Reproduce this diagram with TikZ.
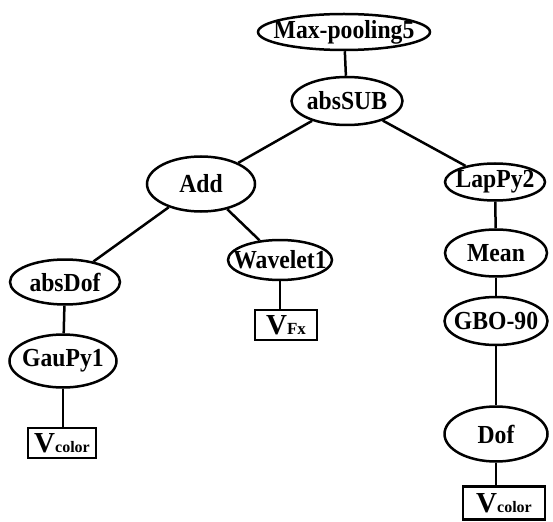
\documentclass[tikz,border=0pt]{standalone}
\usepackage{fontspec}
\setmainfont{Liberation Serif}
\usepackage{graphicx}
\usepackage{tikz}
\usetikzlibrary{shapes.geometric,positioning}

\begin{document}
\begin{tikzpicture}[x=1pt,y=-1pt,
  op/.style={draw,ellipse,line width=2.5pt,inner sep=0pt,label={center:\scalebox{0.91}[1]{#1}}},
  every label/.style={font=\fontsize{26}{26}\selectfont\bfseries,inner sep=0pt},
  leaf/.style={draw,rectangle,line width=2.5pt,inner sep=0pt,font=\fontsize{29}{29}\selectfont\bfseries},
  link/.style={line width=2.5pt}
]
  \useasboundingbox (0,0) rectangle (553,521);
  % operators
  \node[op=Max-pooling5,minimum width=172,minimum height=36] (maxpool) at (344,32) {};
  \node[op=absSUB,minimum width=111,minimum height=48] (abssub) at (347,101) {};
  \node[op=Add,minimum width=108,minimum height=55] (add) at (201,184) {};
  \node[op=LapPy2,minimum width=100,minimum height=37] (lappy) at (495,182) {};
  \node[op=absDof,minimum width=110,minimum height=45] (absdof) at (65,282) {};
  \node[op=Wavelet1,minimum width=104,minimum height=40] (wavelet) at (280,260) {};
  \node[op=GauPy1,minimum width=107,minimum height=53] (gaupy) at (63,361) {};
  \node[op=Mean,minimum width=102,minimum height=47] (mean) at (496,253) {};
  \node[op=GBO-90,minimum width=103,minimum height=48] (gbo) at (496,321) {};
  \node[op=Dof,minimum width=103,minimum height=55] (dof) at (496,434) {};
  % terminals
  \node[leaf,minimum width=68,minimum height=30] (vcolorA) at (62,443) {V{\fontsize{16}{16}\selectfont color}};
  \node[leaf,minimum width=62,minimum height=30] (vfx) at (286,325) {V{\fontsize{17}{17}\selectfont Fx}};
  \node[leaf,minimum width=82,minimum height=33] (vcolorB) at (504,503) {V{\fontsize{16}{16}\selectfont color}};
  % edges
  \draw[link] (maxpool) -- (abssub);
  \draw[link] (abssub) -- (add);
  \draw[link] (abssub) -- (lappy);
  \draw[link] (add) -- (absdof);
  \draw[link] (add) -- (wavelet);
  \draw[link] (absdof) -- (gaupy);
  \draw[link] (gaupy) -- (gaupy|-vcolorA.north);
  \draw[link] (wavelet) -- (wavelet|-vfx.north);
  \draw[link] (lappy) -- (mean);
  \draw[link] (mean) -- (gbo);
  \draw[link] (gbo) -- (dof);
  \draw[link] (dof) -- (dof|-vcolorB.north);
\end{tikzpicture}
\end{document}
